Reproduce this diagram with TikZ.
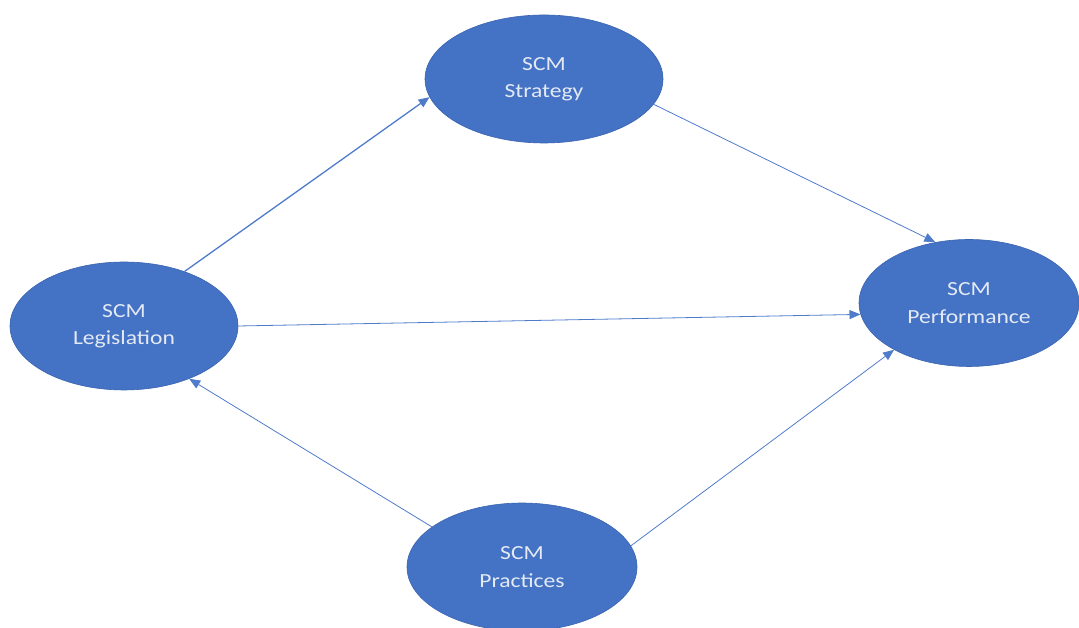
\documentclass[tikz,border=0pt]{standalone}
\usepackage{fontspec}
\setmainfont{Carlito}
\newfontfamily\labelfont[FakeStretch=1.18]{Carlito}
\usetikzlibrary{shapes.geometric,arrows.meta}
\definecolor{nodeblue}{HTML}{4472C4}
\definecolor{edgeblue}{HTML}{3A64B0}
\definecolor{lineblue}{HTML}{4F7BCB}
\definecolor{txt}{HTML}{E4EAF4}
\begin{document}
\begin{tikzpicture}[x=1pt,y=1pt,
  bubble/.style={ellipse,fill=nodeblue,draw=edgeblue,line width=0.6pt,inner sep=0pt,
     text=txt,align=center,font=\labelfont\fontsize{20}{27.5}\selectfont},
  conn/.style={draw=lineblue,line width=0.8pt,-{Triangle[length=11pt,width=9pt]}}]
\useasboundingbox (0,0) rectangle (1079,628);
\node[bubble,minimum width=238pt,minimum height=128pt] (str) at (544,549) {SCM\\Strategy};
\node[bubble,minimum width=228pt,minimum height=128pt] (leg) at (124,302) {SCM\\Legislation};
\node[bubble,minimum width=220pt,minimum height=127pt] (per) at (969,325) {SCM\\Performance};
\node[bubble,minimum width=230pt,minimum height=128pt] (pra) at (522,61) {SCM\\Practices};
\draw[conn,line width=1.3pt] (leg.42.6) -- (str.189.2);
\draw[conn] (str.-13.2) -- (per.119.5);
\draw[conn] (leg.0) -- (per.186.7);
\draw[conn] (pra.156.6) -- (leg.-39.3);
\draw[conn] (pra.11.3) -- (per.212.4);
\end{tikzpicture}
\end{document}
